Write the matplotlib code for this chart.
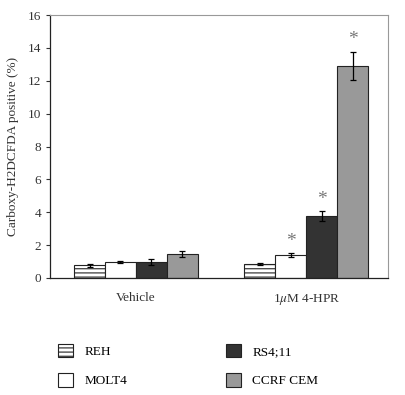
import numpy as np
import matplotlib
matplotlib.use('Agg')
import matplotlib.pyplot as plt

plt.rcParams['font.family'] = ['Liberation Serif', 'DejaVu Serif']
plt.rcParams['mathtext.fontset'] = 'stix'
plt.rcParams['hatch.linewidth'] = 0.8

groups = ['Vehicle', '1$\\mu$M 4-HPR']
cells = ['REH', 'MOLT4', 'RS4;11', 'CCRF CEM']
means = {
    'REH': [0.77, 0.85],
    'MOLT4': [0.97, 1.40],
    'RS4;11': [0.97, 3.77],
    'CCRF CEM': [1.46, 12.9],
}
errs = {
    'REH': [0.10, 0.05],
    'MOLT4': [0.04, 0.10],
    'RS4;11': [0.17, 0.30],
    'CCRF CEM': [0.17, 0.87],
}
signif = {
    'REH': [False, False],
    'MOLT4': [False, True],
    'RS4;11': [False, True],
    'CCRF CEM': [False, True],
}
colors = {'REH': 'white', 'MOLT4': 'white', 'RS4;11': '#333333', 'CCRF CEM': '#999999'}
hatches = {'REH': '----', 'MOLT4': None, 'RS4;11': None, 'CCRF CEM': None}

fig = plt.figure(figsize=(4.05, 3.95), dpi=100)
ax = fig.add_axes([50 / 405, 117 / 395, 338 / 405, 263 / 395])

x = np.arange(len(groups))
w = 0.182
handles = []
for i, c in enumerate(cells):
    pos = x + (i - 1.5) * w
    b = ax.bar(pos, means[c], w, color=colors[c], edgecolor='#222222',
               linewidth=0.8, hatch=hatches[c], label=c, zorder=2)
    handles.append(b)
    ax.errorbar(pos, means[c], yerr=errs[c], fmt='none', ecolor='black',
                elinewidth=0.9, capsize=2.5, capthick=0.9, zorder=3)
    for p, m, e, s in zip(pos, means[c], errs[c], signif[c]):
        if s:
            ax.text(p, m + e + 0.2, '*', ha='center', va='bottom',
                    fontsize=14, color='#777777')

ax.set_xlim(-0.505, 1.48)
ax.set_ylim(0, 16)
ax.set_yticks(np.arange(0, 17, 2))
ax.set_xticks(x)
ax.set_xticklabels(groups)
ax.tick_params(axis='x', length=0, labelsize=9.5, pad=10, colors='#333333')
ax.tick_params(axis='y', length=3, width=0.8, labelsize=9.5, colors='#333333')
ax.set_ylabel('Carboxy-H2DCFDA positive (%)', fontsize=9.5, color='#333333', labelpad=6)
for s in ['top', 'right']:
    ax.spines[s].set_color('#999999')
    ax.spines[s].set_linewidth(0.8)
for s in ['left', 'bottom']:
    ax.spines[s].set_color('#222222')
    ax.spines[s].set_linewidth(0.9)

fig.legend(handles=handles, labels=cells, ncol=2, loc='upper left',
           bbox_to_anchor=(46 / 405, 1 - 332 / 395), frameon=False,
           fontsize=9.5, handlelength=1.15, handleheight=1.2,
           handletextpad=0.85, labelspacing=1.15, columnspacing=7.5)

fig.savefig('out.png', dpi=100)
